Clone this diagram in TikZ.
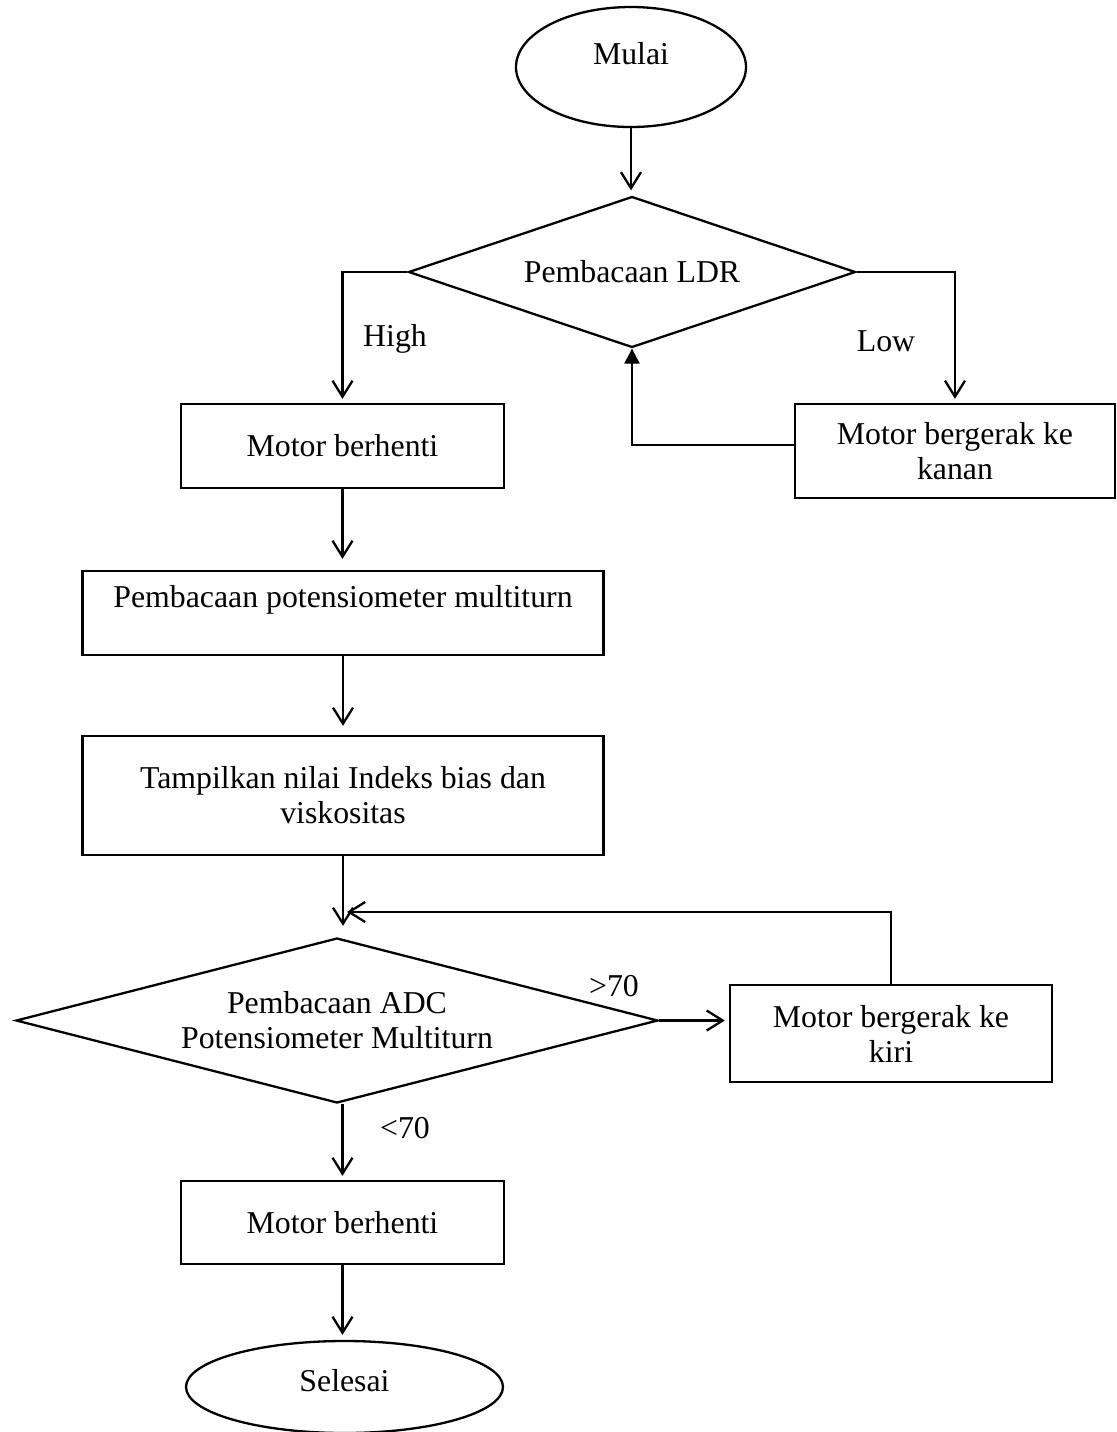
\documentclass[tikz,border=0pt]{standalone}
\usepackage{fontspec}
\setmainfont{Liberation Serif}
\usetikzlibrary{shapes.geometric,arrows.meta}

\begin{document}
\begin{tikzpicture}[
  x=0.5pt, y=-0.5pt,
  every node/.style={font=\fontsize{15.9pt}{17.5pt}\selectfont, inner sep=0pt},
  wire/.style={line width=1.15pt},
  flow/.style={wire, -{Straight Barb[length=8pt,width=10pt]}},
  back/.style={wire, -{Triangle[length=7.5pt,width=7.5pt]}},
  procbox/.style={draw, wire, rectangle, align=center},
  term/.style={draw, wire, ellipse},
  decide/.style={draw, wire, diamond, align=center},
]
\useasboundingbox (0,0) rectangle (1117,1432);

% terminals, processes and decisions
\node[term, minimum width=115pt, minimum height=60pt, text depth=14pt] (start) at (631,67) {Mulai};
\node[decide, shape aspect=2.96, minimum width=223.5pt, minimum height=75.5pt] (ldr) at (632,272) {Pembacaan LDR};
\node[procbox, minimum width=161.5pt, minimum height=42pt] (stop1) at (342.5,446) {Motor berhenti};
\node[procbox, minimum width=160pt, minimum height=47pt] (kanan) at (955,451) {Motor bergerak ke\\kanan};
\node[procbox, minimum width=260.5pt, minimum height=42pt, text depth=17pt] (pot) at (343,613) {Pembacaan potensiometer multiturn};
\node[procbox, minimum width=260.5pt, minimum height=59.5pt] (tampil) at (343,795.5) {Tampilkan nilai Indeks bias dan\\viskositas};
\node[decide, shape aspect=3.89, minimum width=321pt, minimum height=82.5pt] (adc) at (337,1020.5) {Pembacaan ADC\\Potensiometer Multiturn};
\node[procbox, minimum width=161pt, minimum height=48.5pt] (kiri) at (891,1033.5) {Motor bergerak ke\\kiri};
\node[procbox, minimum width=161.5pt, minimum height=41.5pt] (stop2) at (342.5,1222.5) {Motor berhenti};
\node[term, minimum width=158.5pt, minimum height=46pt, text depth=7pt] (finish) at (344.5,1387) {Selesai};

% branch labels
\node (lblhigh) at (395,339) {High};
\node (lbllow) at (886,341) {Low};
\node (lblgt) at (614,986) {>70};
\node (lbllt) at (405,1128) {<70};

% junction where the loop re-enters above the ADC decision
\coordinate (merge) at (343,912);

% connectors
\draw[flow, shorten >=2.5pt] (start.south) -- (start.south |- ldr.north);
\draw[flow, shorten >=2pt] (ldr.west) -| (stop1.north);
\draw[flow, shorten >=2pt] (ldr.east) -| (kanan.north);
\draw[back] ([yshift=3pt]kanan.west) -| (ldr.south);
\draw[flow, shorten >=5.5pt] (stop1.south) -- (stop1.south |- pot.north);
\draw[flow, shorten >=4.5pt] (pot.south) -- (tampil.north);
\draw[flow, shorten >=5.5pt] (tampil.south) -- (tampil.south |- adc.north);
\draw[flow, shorten >=2pt] (kiri.north) |- (merge);
\draw[flow, shorten >=2pt] (adc.east) -- (adc.east -| kiri.west);
\draw[flow, shorten >=2pt] (stop2.north |- adc.south) -- (stop2.north);
\draw[flow, shorten >=2.5pt] (stop2.south) -- (stop2.south |- finish.north);
\end{tikzpicture}
\end{document}
